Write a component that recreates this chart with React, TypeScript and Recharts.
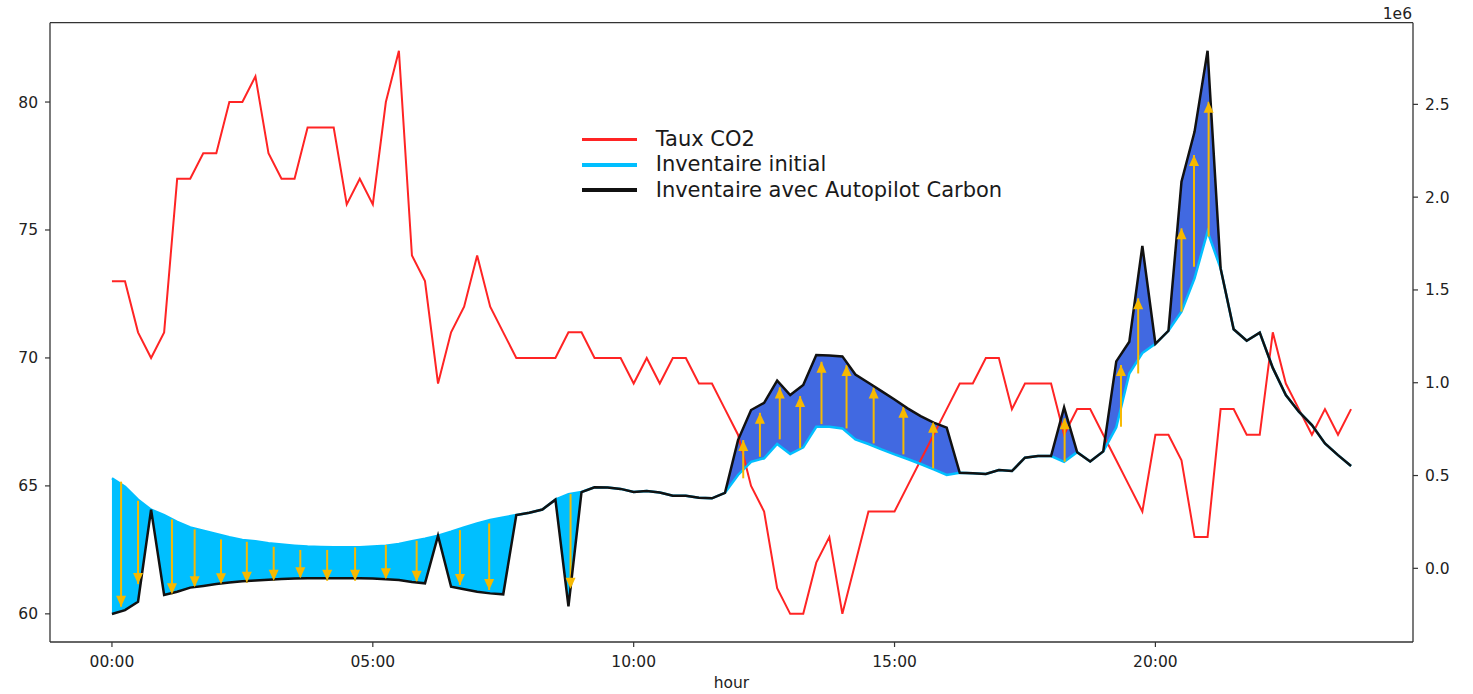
import React from 'react';
import {
  ComposedChart,
  Line,
  Area,
  XAxis,
  YAxis,
  ReferenceLine,
  Scatter,
  Legend,
  Label,
} from 'recharts';

// 15-minute time stamps
const times = [
  '00:00', '00:15', '00:30', '00:45', '01:00', '01:15', '01:30', '01:45',
  '02:00', '02:15', '02:30', '02:45', '03:00', '03:15', '03:30', '03:45',
  '04:00', '04:15', '04:30', '04:45', '05:00', '05:15', '05:30', '05:45',
  '06:00', '06:15', '06:30', '06:45', '07:00', '07:15', '07:30', '07:45',
  '08:00', '08:15', '08:30', '08:45', '09:00', '09:15', '09:30', '09:45',
  '10:00', '10:15', '10:30', '10:45', '11:00', '11:15', '11:30', '11:45',
  '12:00', '12:15', '12:30', '12:45', '13:00', '13:15', '13:30', '13:45',
  '14:00', '14:15', '14:30', '14:45', '15:00', '15:15', '15:30', '15:45',
  '16:00', '16:15', '16:30', '16:45', '17:00', '17:15', '17:30', '17:45',
  '18:00', '18:15', '18:30', '18:45', '19:00', '19:15', '19:30', '19:45',
  '20:00', '20:15', '20:30', '20:45', '21:00', '21:15', '21:30', '21:45',
  '22:00', '22:15', '22:30', '22:45', '23:00', '23:15', '23:30', '23:45',
];

// Taux CO2 (left axis)
const co2 = [
  73, 73, 71, 70, 71, 77, 77, 78, 78, 80, 80, 81, 78, 77, 77, 79,
  79, 79, 76, 77, 76, 80, 82, 74, 73, 69, 71, 72, 74, 72, 71, 70,
  70, 70, 70, 71, 71, 70, 70, 70, 69, 70, 69, 70, 70, 69, 69, 68,
  67, 65, 64, 61, 60, 60, 62, 63, 60, 62, 64, 64, 64, 65, 66, 67,
  68, 69, 69, 70, 70, 68, 69, 69, 69, 67, 68, 68, 67, 66, 65, 64,
  67, 67, 66, 63, 63, 68, 68, 67, 67, 71, 69, 68, 67, 68, 67, 68,
];

// Inventaire initial (right axis, x 1e6)
const initialInv = [
  0.485, 0.44, 0.37, 0.316, 0.286, 0.25, 0.22, 0.203, 0.185, 0.167, 0.153, 0.146, 0.135, 0.128, 0.122, 0.117,
  0.115, 0.113, 0.113, 0.113, 0.117, 0.122, 0.131, 0.146, 0.16, 0.176, 0.197, 0.22, 0.242, 0.26, 0.274, 0.287,
  0.299, 0.317, 0.37, 0.399, 0.411, 0.437, 0.436, 0.428, 0.411, 0.417, 0.408, 0.391, 0.391, 0.38, 0.377, 0.407,
  0.503, 0.574, 0.593, 0.67, 0.616, 0.652, 0.763, 0.763, 0.754, 0.695, 0.67, 0.641, 0.614, 0.589, 0.562, 0.533,
  0.503, 0.515, 0.512, 0.508, 0.53, 0.524, 0.596, 0.605, 0.605, 0.574, 0.626, 0.576, 0.63, 0.76, 1.05, 1.16,
  1.21, 1.28, 1.383, 1.562, 1.814, 1.616, 1.288, 1.226, 1.27, 1.08, 0.934, 0.844, 0.772, 0.673, 0.61, 0.551,
];

// Inventaire avec Autopilot Carbon (right axis, x 1e6)
const autopilotInv = [
  -0.246, -0.225, -0.18, 0.316, -0.144, -0.126, -0.104, -0.095, -0.085, -0.077, -0.07, -0.066, -0.061, -0.057, -0.055, -0.054,
  -0.054, -0.054, -0.054, -0.054, -0.055, -0.059, -0.063, -0.074, -0.081, 0.176, -0.099, -0.113, -0.126, -0.135, -0.14, 0.287,
  0.299, 0.317, 0.37, -0.205, 0.411, 0.437, 0.436, 0.428, 0.411, 0.417, 0.408, 0.391, 0.391, 0.38, 0.377, 0.407,
  0.691, 0.853, 0.892, 1.011, 0.934, 0.988, 1.149, 1.147, 1.142, 1.044, 1.0, 0.955, 0.91, 0.862, 0.82, 0.785,
  0.758, 0.515, 0.512, 0.508, 0.53, 0.524, 0.596, 0.605, 0.605, 0.867, 0.626, 0.576, 0.63, 1.115, 1.221, 1.737,
  1.21, 1.28, 2.083, 2.352, 2.789, 1.616, 1.288, 1.226, 1.27, 1.08, 0.934, 0.844, 0.772, 0.673, 0.61, 0.551,
];

// Arrows (hour, start value, tip value), right axis x 1e6
const arrowTimes = [
  0.175, 0.5, 1.15, 1.585, 2.09, 2.585, 3.1, 3.61, 4.125, 4.66, 5.25, 5.84, 6.67, 7.23, 8.79,
  12.1, 12.42, 12.8, 13.19, 13.6, 14.08, 14.6, 15.17, 15.74, 18.26, 19.34, 19.67, 20.5, 20.74, 21.02,
];
const arrowFrom = [
  0.467, 0.364, 0.264, 0.21, 0.156, 0.143, 0.116, 0.099, 0.099, 0.113, 0.126, 0.149, 0.206, 0.242, 0.4,
  0.485, 0.601, 0.695, 0.647, 0.777, 0.754, 0.673, 0.614, 0.539, 0.574, 0.763, 1.05, 1.383, 1.625, 1.787,
];
const arrowTo = [
  -0.207, -0.085, -0.14, -0.102, -0.086, -0.078, -0.067, -0.054, -0.067, -0.067, -0.059, -0.072, -0.09, -0.117, -0.11,
  0.691, 0.838, 0.975, 0.928, 1.113, 1.095, 0.975, 0.871, 0.79, 0.808, 1.095, 1.455, 1.832, 2.227, 2.514,
];

const xTicks = [0, 5, 10, 15, 20];
const leftTicks = [60, 65, 70, 75, 80];
const rightTicks = [0, 0.5, 1, 1.5, 2, 2.5];

const RED = '#ff2424';
const CYAN = '#00bfff';
const ROYAL = '#4169e1';
const BLACK = '#111111';
const GOLD = '#f7b900';
const AXIS = '#333333';
const FONT = 'DejaVu Sans';

const legendItems = [
  { label: 'Taux CO2', color: RED },
  { label: 'Inventaire initial', color: CYAN },
  { label: 'Inventaire avec Autopilot Carbon', color: BLACK },
];

const toHours = (s: string) => {
  const [h, m] = s.split(':').map(Number);
  return h + m / 60;
};

const data = times.map((s, i) => {
  const a = initialInv[i];
  const b = autopilotInv[i];
  return {
    t: toHours(s),
    co2: co2[i],
    init: a,
    auto: b,
    down: a >= b ? [b, a] : [a, a],
    up: b > a ? [a, b] : [a, a],
  };
});

const arrows = arrowTimes.map((t, i) => ({
  t,
  from: arrowFrom[i],
  tip: arrowTo[i],
  dir: arrowTo[i] > arrowFrom[i] ? 'up' : 'down',
}));

const ArrowHead = (props: any) => {
  const { cx, cy, payload } = props;
  if (cx == null || cy == null) return null;
  const s = payload && payload.dir === 'up' ? 1 : -1;
  const L = 11;
  const W = 5;
  return (
    <polygon
      points={`${cx},${cy} ${cx - W},${cy + s * L} ${cx + W},${cy + s * L}`}
      fill={GOLD}
    />
  );
};

const renderLegend = () => (
  <div
    style={{
      fontFamily: FONT,
      fontSize: 21,
      lineHeight: '25.3px',
      color: '#1a1a1a',
      whiteSpace: 'nowrap',
    }}
  >
    {legendItems.map((it) => (
      <div key={it.label} style={{ display: 'flex', alignItems: 'center', height: 25.3 }}>
        <span
          style={{
            display: 'inline-block',
            width: 55,
            height: 3.5,
            background: it.color,
            marginRight: 19,
          }}
        />
        <span>{it.label}</span>
      </div>
    ))}
  </div>
);

const tickStyle = { fill: '#222', fontSize: 15.5, fontFamily: FONT };

export default function App() {
  return (
    <div style={{ position: 'absolute', left: 0, top: 0, width: 1473, height: 694, background: '#fff' }}>
      <ComposedChart
        width={1473}
        height={694}
        data={data}
        margin={{ top: 22.7, right: 8, bottom: 22, left: 8 }}
      >
        <XAxis
          dataKey="t"
          type="number"
          domain={[-1.1875, 24.9375]}
          allowDataOverflow
          ticks={xTicks}
          tickFormatter={(h: number) => `${String(h).padStart(2, '0')}:00`}
          tick={tickStyle}
          tickSize={5}
          tickMargin={9}
          height={30}
          axisLine={{ stroke: AXIS, strokeWidth: 1.3 }}
          tickLine={{ stroke: AXIS, strokeWidth: 1.2 }}
        >
          <Label value="hour" position="bottom" offset={5} fill="#222" fontSize={15.5} fontFamily={FONT} />
        </XAxis>
        <YAxis
          yAxisId="left"
          orientation="left"
          type="number"
          domain={[58.9, 83.1]}
          allowDataOverflow
          ticks={leftTicks}
          tick={tickStyle}
          tickSize={5}
          tickMargin={7}
          width={42}
          axisLine={{ stroke: AXIS, strokeWidth: 1.3 }}
          tickLine={{ stroke: AXIS, strokeWidth: 1.2 }}
        />
        <YAxis
          yAxisId="right"
          orientation="right"
          type="number"
          domain={[-0.397, 2.94]}
          allowDataOverflow
          ticks={rightTicks}
          tickFormatter={(v: number) => v.toFixed(1)}
          tick={tickStyle}
          tickSize={5}
          tickMargin={7}
          width={52}
          axisLine={{ stroke: AXIS, strokeWidth: 1.3 }}
          tickLine={{ stroke: AXIS, strokeWidth: 1.2 }}
        >
          <Label
            content={(p: any) => {
              const vb = p.viewBox || {};
              return (
                <text
                  x={(vb.x ?? 1413) - 1}
                  y={(vb.y ?? 22.7) - 3.5}
                  textAnchor="end"
                  fill="#222"
                  fontSize={15.5}
                  fontFamily={FONT}
                >
                  1e6
                </text>
              );
            }}
          />
        </YAxis>

        <ReferenceLine yAxisId="left" y={83.1} stroke={AXIS} strokeWidth={1.3} ifOverflow="visible" />

        <Line
          yAxisId="left"
          type="linear"
          dataKey="co2"
          stroke={RED}
          strokeWidth={2}
          dot={false}
          isAnimationActive={false}
        />
        <Area
          yAxisId="right"
          type="linear"
          dataKey="down"
          stroke="none"
          fill={CYAN}
          fillOpacity={1}
          isAnimationActive={false}
        />
        <Area
          yAxisId="right"
          type="linear"
          dataKey="up"
          stroke="none"
          fill={ROYAL}
          fillOpacity={1}
          isAnimationActive={false}
        />
        <Line
          yAxisId="right"
          type="linear"
          dataKey="init"
          stroke={CYAN}
          strokeWidth={2.5}
          dot={false}
          isAnimationActive={false}
        />
        {arrows.map((a, i) => (
          <ReferenceLine
            key={`arrow-${i}`}
            yAxisId="right"
            segment={[
              { x: a.t, y: a.from },
              { x: a.t, y: a.tip },
            ]}
            stroke={GOLD}
            strokeWidth={2}
          />
        ))}
        <Scatter
          yAxisId="right"
          data={arrows}
          dataKey="tip"
          shape={ArrowHead}
          isAnimationActive={false}
        />
        <Line
          yAxisId="right"
          type="linear"
          dataKey="auto"
          stroke={BLACK}
          strokeWidth={2.5}
          dot={false}
          isAnimationActive={false}
        />
        <Legend
          layout="vertical"
          align="center"
          verticalAlign="middle"
          content={renderLegend}
          wrapperStyle={{ left: 581.7, top: 127, width: 'auto', height: 'auto' }}
        />
      </ComposedChart>
    </div>
  );
}
